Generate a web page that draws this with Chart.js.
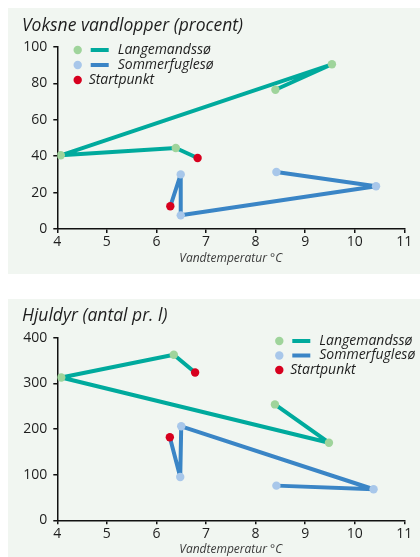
<!DOCTYPE html>
<html>
<head>
<meta charset="utf-8">
<script src="https://cdn.jsdelivr.net/npm/chart.js@4/dist/chart.umd.min.js"></script>
<style>
  html, body { margin: 0; padding: 0; background: #ffffff; }
  body { width: 420px; height: 557px; position: relative; overflow: hidden; }
  .panel { position: absolute; left: 8px; width: 412px; background: #f1f6f1; }
  #p1 { top: 8px; height: 266px; }
  #p2 { top: 299px; height: 258px; }
  canvas { display: block; }
</style>
</head>
<body>
<div class="panel" id="p1"><canvas id="c1"></canvas></div>
<div class="panel" id="p2"><canvas id="c2"></canvas></div>
<script>
// Water temperature (°C) and measured values, in sampling order; first point is the start.
const langeTempAdults   = [6.83, 6.39, 4.07, 9.54, 8.40];
const langeAdults       = [39, 44.5, 40.5, 90.5, 76.5];
const sommerTempAdults  = [6.28, 6.49, 6.49, 10.43, 8.42];
const sommerAdults      = [12.5, 30, 7.5, 23.5, 31.3];

const langeTempRotifers  = [6.78, 6.35, 4.08, 9.48, 8.39];
const langeRotifers      = [324, 363, 313, 170, 254];
const sommerTempRotifers = [6.27, 6.48, 6.50, 10.38, 8.42];
const sommerRotifers     = [182, 95, 206, 68, 76];

const xTicks = [4, 5, 6, 7, 8, 9, 10, 11];
const legendLabels = ['Langemandssø', 'Sommerfuglesø', 'Startpunkt'];

const FONT = "'Open Sans', 'DejaVu Sans', sans-serif";
const TEAL = '#00aa9d', TEAL_PT = '#9fd49b';
const BLUE = '#3a85c6', BLUE_PT = '#a8c7ea';
const RED = '#d7001e';
const INK = '#1e1e1e';

function toPoints(xs, ys) { return xs.map((x, i) => ({ x, y: ys[i] })); }

function series(label, xs, ys, lineColor, ptColor) {
  return {
    label,
    data: toPoints(xs, ys),
    showLine: true,
    borderColor: lineColor,
    borderWidth: 4,
    borderJoinStyle: 'round',
    borderCapStyle: 'round',
    pointRadius: 4.2,
    pointHoverRadius: 4.2,
    pointBorderWidth: 0,
    pointBackgroundColor: xs.map((_, i) => i === 0 ? RED : ptColor),
    pointBorderColor: xs.map((_, i) => i === 0 ? RED : ptColor),
  };
}

// Legend: dot + line swatch per lake, and a red dot for the start point
function legendPlugin(x0, y0, step) {
  return {
    id: 'lakeLegend',
    afterDraw(chart) {
      const ctx = chart.ctx;
      ctx.save();
      const rows = [
        { dot: TEAL_PT, line: TEAL },
        { dot: BLUE_PT, line: BLUE },
        { dot: RED, line: null },
      ];
      rows.forEach((r, i) => {
        const y = y0 + i * step;
        ctx.fillStyle = r.dot;
        ctx.beginPath();
        ctx.arc(x0, y, 4.2, 0, Math.PI * 2);
        ctx.fill();
        let tx = x0 + 11;
        if (r.line) {
          ctx.strokeStyle = r.line;
          ctx.lineWidth = 4;
          ctx.beginPath();
          ctx.moveTo(x0 + 13, y);
          ctx.lineTo(x0 + 31, y);
          ctx.stroke();
          tx = x0 + 40;
        }
        ctx.fillStyle = INK;
        ctx.font = 'italic 14px ' + FONT;
        ctx.textBaseline = 'middle';
        ctx.textAlign = 'left';
        ctx.fillText(legendLabels[i], tx, y);
      });
      ctx.restore();
    }
  };
}

function makeChart(id, title, datasets, yMax, yStep, titlePad, bottomPad, legend) {
  return new Chart(document.getElementById(id), {
    type: 'scatter',
    data: { datasets },
    plugins: [legend],
    options: {
      responsive: true,
      maintainAspectRatio: false,
      animation: false,
      events: [],
      layout: { padding: { left: 14, right: 15.7, top: 0, bottom: bottomPad } },
      plugins: {
        legend: { display: false },
        tooltip: { enabled: false },
        title: {
          display: true,
          text: title,
          align: 'start',
          color: INK,
          font: { family: FONT, size: 17.5, style: 'italic', weight: 'normal', lineHeight: 1.2 },
          padding: titlePad,
        },
      },
      scales: {
        x: {
          type: 'linear',
          min: 4, max: 11,
          afterBuildTicks: (s) => { s.ticks = xTicks.map(v => ({ value: v })); },
          afterFit: (s) => { s.height = 36.7; },
          border: { display: true, color: '#111', width: 1.5 },
          grid: { drawOnChartArea: false, color: '#111', tickLength: 4, lineWidth: 1.5 },
          ticks: { color: INK, padding: 1, font: { family: FONT, size: 14 } },
          title: {
            display: true,
            text: 'Vandtemperatur °C',
            color: '#3a3a3a',
            font: { family: FONT, size: 12, style: 'italic' },
            padding: { top: 3.2, bottom: 0 },
          },
        },
        y: {
          type: 'linear',
          min: 0, max: yMax,
          afterFit: (s) => { s.width = 35.3; },
          border: { display: true, color: '#111', width: 1.5 },
          grid: { drawOnChartArea: false, color: '#111', tickLength: 4, lineWidth: 1.5 },
          ticks: { stepSize: yStep, color: INK, padding: 6, font: { family: FONT, size: 14 } },
        },
      },
    },
  });
}

makeChart('c1', 'Voksne vandlopper (procent)', [
  series('Langemandssø', langeTempAdults, langeAdults, TEAL, TEAL_PT),
  series('Sommerfuglesø', sommerTempAdults, sommerAdults, BLUE, BLUE_PT),
], 100, 20, { top: 7.5, bottom: 10.5 }, 8.3, legendPlugin(69.7, 42, 15));

makeChart('c2', 'Hjuldyr (antal pr. l)', [
  series('Langemandssø', langeTempRotifers, langeRotifers, TEAL, TEAL_PT),
  series('Sommerfuglesø', sommerTempRotifers, sommerRotifers, BLUE, BLUE_PT),
], 400, 100, { top: 6.5, bottom: 11.3 }, 0, legendPlugin(271.3, 42, 14.5));
</script>
</body>
</html>
